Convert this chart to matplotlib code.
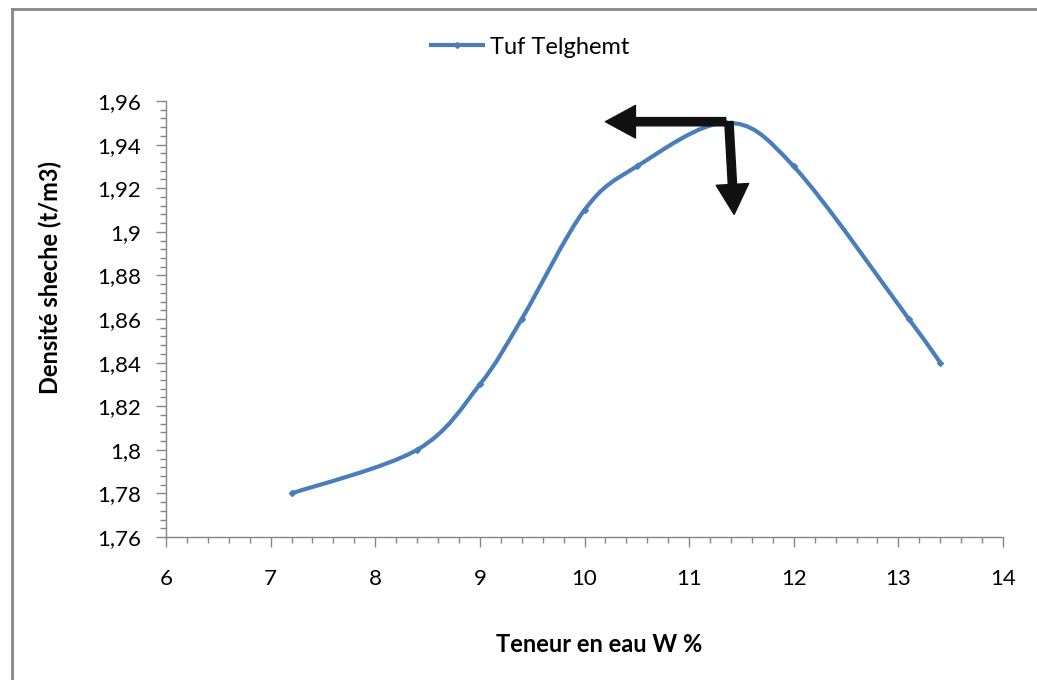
#Courbe Proctor - Tuf Telghemt
#densité sèche en fonction de la teneur en eau, courbe lissée type Excel
import matplotlib
matplotlib.use("Agg")
from matplotlib import pyplot as plt
from matplotlib.path import Path
from matplotlib.patches import PathPatch
from matplotlib.lines import Line2D
from matplotlib.ticker import MultipleLocator

teneur = [7.2, 8.4, 9.0, 9.4, 10.0, 10.5, 11.35, 12.0, 13.1, 13.4]
densite = [1.78, 1.80, 1.83, 1.86, 1.91, 1.93, 1.95, 1.93, 1.86, 1.84]
xticks = [6, 7, 8, 9, 10, 11, 12, 13, 14]
yticks = [1.76, 1.78, 1.80, 1.82, 1.84, 1.86, 1.88, 1.90, 1.92, 1.94, 1.96]
ytick_labels = ["1,76", "1,78", "1,8", "1,82", "1,84", "1,86", "1,88", "1,9", "1,92", "1,94", "1,96"]
# point optimum (wopt, gamma_d max) pour les flèches
w_opt = 11.35
d_opt = 1.9505

bleu = "#4A7EBB"
gris = "#868686"
plt.rcParams['font.family'] = ['Lato', 'DejaVu Sans']

def excel_smooth(x, y):
    # bezier par segments, points de controle type Catmull-Rom (comme Excel)
    pts = list(zip(x, y))
    n = len(pts)
    verts = [pts[0]]
    codes = [Path.MOVETO]
    for i in range(n - 1):
        p0 = pts[i - 1] if i > 0 else pts[i]
        p1 = pts[i]
        p2 = pts[i + 1]
        p3 = pts[i + 2] if i + 2 < n else pts[i + 1]
        c1 = (p1[0] + (p2[0] - p0[0]) / 6, p1[1] + (p2[1] - p0[1]) / 6)
        c2 = (p2[0] - (p3[0] - p1[0]) / 6, p2[1] - (p3[1] - p1[1]) / 6)
        verts += [c1, c2, p2]
        codes += [Path.CURVE4] * 3
    return Path(verts, codes)

fig = plt.figure(figsize=(10.37, 6.8), dpi=100)
ax = fig.add_axes([166/1037, 1 - 537/680, (1003 - 166)/1037, (537 - 101)/680])

patch = PathPatch(excel_smooth(teneur, densite), fill=False, edgecolor=bleu,
                  lw=3, capstyle='round', joinstyle='round', zorder=3)
ax.add_patch(patch)
ax.plot(teneur, densite, ls='none', marker='D', ms=3, color=bleu, zorder=4)

# fleches vers les axes
fleche = dict(arrowstyle="simple,head_length=1.2,head_width=1.3,tail_width=0.33",
              color="#111111", shrinkA=0, shrinkB=0)
ax.annotate("", xy=(10.2, d_opt), xytext=(w_opt, d_opt),
            arrowprops=dict(fleche, mutation_scale=18), zorder=5)
ax.annotate("", xy=(w_opt + 0.08, 1.908), xytext=(w_opt + 0.03, d_opt),
            arrowprops=dict(fleche, mutation_scale=18), zorder=5)

ax.set_xlim(6, 14)
ax.set_ylim(1.76, 1.96)
ax.set_xticks(xticks)
ax.set_yticks(yticks)
ax.set_yticklabels(ytick_labels)
ax.xaxis.set_minor_locator(MultipleLocator(0.2))
ax.yaxis.set_minor_locator(MultipleLocator(0.004))
ax.tick_params(which='major', length=7, width=1, color=gris, labelsize=16)
ax.tick_params(which='minor', length=4, width=1, color=gris)
ax.tick_params(axis='x', which='major', pad=16)
ax.tick_params(axis='y', which='major', pad=11)
for s in ['top', 'right']:
    ax.spines[s].set_visible(False)
for s in ['left', 'bottom']:
    ax.spines[s].set_color(gris)
    ax.spines[s].set_linewidth(1)

ax.set_xlabel("Teneur en eau W %", fontsize=17, fontweight='bold')
ax.set_ylabel("Densité sheche (t/m3)", fontsize=17, fontweight='bold')
ax.xaxis.set_label_coords(0.518, -0.22)
ax.yaxis.set_label_coords(-0.124, 0.596)

leg_line = Line2D([], [], color=bleu, lw=3, marker='D', ms=3)
fig.legend([leg_line], ["Tuf Telghemt"], loc='center', bbox_to_anchor=(530/1037, 1 - 47/680),
           frameon=False, fontsize=17, handlelength=2.2, handletextpad=0.3)

# cadre gris du graphique
fig.add_artist(Line2D([12/1037, 12/1037], [0, 1 - 9/680], color=gris, lw=2))
fig.add_artist(Line2D([12/1037, 1], [1 - 9/680, 1 - 9/680], color=gris, lw=2))

plt.savefig("out.png", dpi=100)
